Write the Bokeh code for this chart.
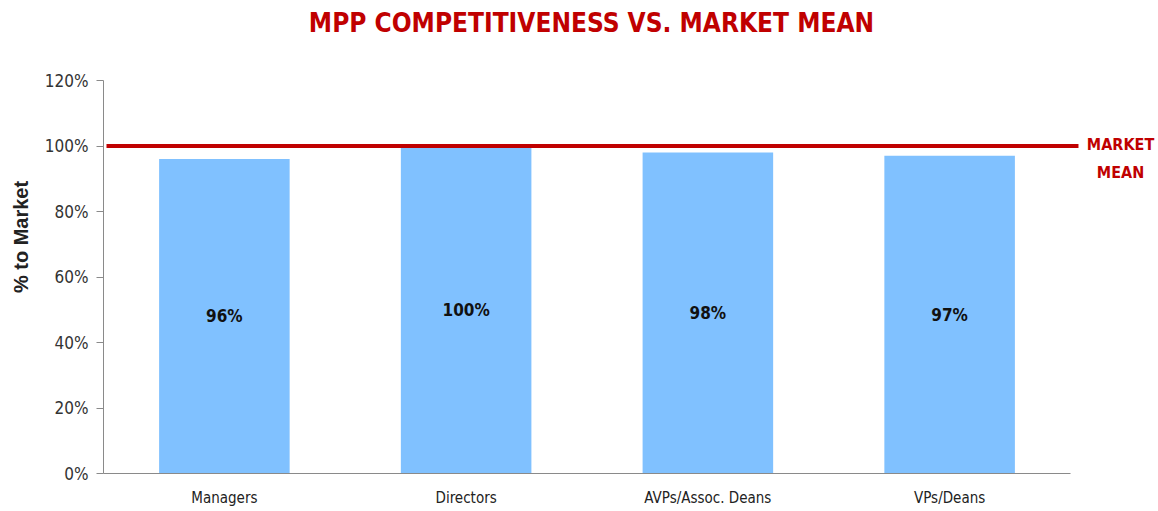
from bokeh.plotting import figure
from bokeh.models import Range1d, FixedTicker, NumeralTickFormatter, ColumnDataSource
from bokeh.core.properties import value
from bokeh.embed import file_html
from bokeh.resources import INLINE

categories = ["Managers", "Directors", "AVPs/Assoc. Deans", "VPs/Deans"]
values = [0.96, 1.00, 0.98, 0.97]
bar_labels = ["96%", "100%", "98%", "97%"]
market_mean = 1.0
y_ticks = [0, 0.2, 0.4, 0.6, 0.8, 1.0, 1.2]
title_text = "MPP COMPETITIVENESS VS. MARKET MEAN"
mean_label = ["MARKET", "MEAN"]

NARROW = "'Liberation Sans Narrow', 'Arial Narrow', 'DejaVu Sans Condensed', 'Roboto Condensed', 'Liberation Sans', sans-serif"
RED = "#C00000"
AXIS = "#8a8a8a"

xs = list(range(len(categories)))
src = ColumnDataSource(dict(x=xs, top=values, label=bar_labels, mid=[v / 2 for v in values]))

p = figure(width=1158, height=511, output_backend="svg", toolbar_location=None,
           x_range=Range1d(-0.5, 3.864), y_range=Range1d(0, 1.4443),
           min_border_left=103, min_border_right=0, min_border_top=0, min_border_bottom=38)
p.outline_line_color = None
p.xgrid.visible = False
p.ygrid.visible = False
p.title.visible = False

p.vbar(x="x", top="top", width=0.54, source=src, fill_color="#80C1FF", line_color=None)

# market mean line
p.segment(x0=-0.4876, y0=market_mean, x1=3.533, y1=market_mean, line_color=RED, line_width=4)

p.text(x="x", y="mid", text="label", source=src, text_align="center", text_baseline="middle",
       text_font=value(NARROW), text_font_size="17px", text_font_style="bold",
       text_color="#111111")

# title
p.text(x=[1.5186], y=[1.377], text=[title_text], text_align="center", text_baseline="middle",
       text_font=value(NARROW), text_font_size="26px", text_font_style="bold", text_color=RED)

# market mean label
p.text(x=[3.707, 3.707], y=[1.0046, 0.919], text=mean_label, text_align="center",
       text_baseline="middle", text_font=value(NARROW), text_font_size="16px",
       text_font_style="bold", text_color=RED)

# axes
p.yaxis.bounds = (0, 1.2)
p.yaxis.ticker = FixedTicker(ticks=y_ticks)
p.yaxis.formatter = NumeralTickFormatter(format="0%")
p.yaxis.major_label_text_font = NARROW
p.yaxis.major_label_text_font_size = "17px"
p.yaxis.major_label_text_color = "#333333"
p.yaxis.axis_line_color = AXIS
p.yaxis.major_tick_line_color = AXIS
p.yaxis.major_tick_out = 7
p.yaxis.major_tick_in = 0
p.yaxis.minor_tick_line_color = None
p.yaxis.major_label_standoff = 8
p.yaxis.axis_label = "% to Market"
p.yaxis.axis_label_text_font = "Liberation Sans"
p.yaxis.axis_label_text_font_size = "20px"
p.yaxis.axis_label_text_font_style = "bold"
p.yaxis.axis_label_text_color = "#222222"
p.yaxis.axis_label_standoff = 10

p.xaxis.bounds = (-0.5, len(categories) - 0.5)
p.xaxis.ticker = FixedTicker(ticks=xs)
p.xaxis.major_label_overrides = {i: c for i, c in zip(xs, categories)}
p.xaxis.major_label_text_font = NARROW
p.xaxis.major_label_text_font_size = "15px"
p.xaxis.major_label_text_color = "#222222"
p.xaxis.axis_line_color = AXIS
p.xaxis.axis_line_width = 1.2
p.xaxis.major_tick_line_color = None
p.xaxis.minor_tick_line_color = None
p.xaxis.major_tick_out = 0
p.xaxis.major_tick_in = 0
p.xaxis.major_label_standoff = 15

open("out.html", "w").write(file_html(p, INLINE))
